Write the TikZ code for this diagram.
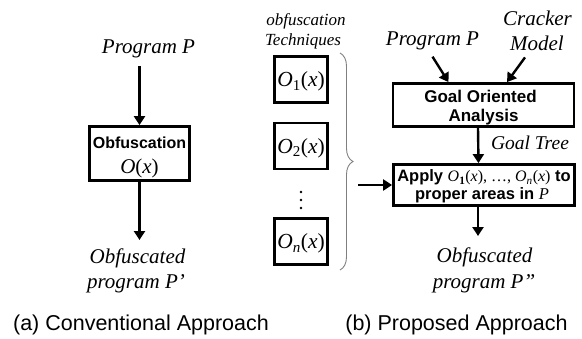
\documentclass[tikz,border=0pt]{standalone}
\usepackage{fontspec}
\setmainfont{Liberation Serif}
\setsansfont{Liberation Sans}
\usetikzlibrary{arrows.meta,decorations.pathreplacing,calc}
% O(x) and O_k(x) in serif: italic letters, upright parentheses
\newcommand\Ofx{\textit{O}{\upshape(}\textit{x}{\upshape)}}
\newcommand\Okx[1]{\textit{O}\textsubscript{#1}{\upshape(}\textit{x}{\upshape)}}
\begin{document}
\begin{tikzpicture}[x=1pt,y=-1pt,
  it/.style={font=\fontsize{21}{24}\selectfont\itshape, inner sep=0pt},
  itsm/.style={font=\fontsize{17}{20}\selectfont\itshape, inner sep=0pt},
  itmd/.style={font=\fontsize{19.5}{22}\selectfont\itshape, inner sep=0pt},
  ser/.style={font=\fontsize{21}{24}\selectfont, inner sep=0pt},
  bf/.style={font=\fontsize{16}{19}\selectfont\sffamily\bfseries, inner sep=0pt},
  captext/.style={font=\fontsize{21.5}{24}\selectfont\sffamily, inner sep=0pt},
  box/.style={draw, line width=2.8pt, inner sep=0pt},
  obox/.style={box, minimum width=53, minimum height=46, text depth=0pt,
    font=\fontsize{21.5}{24}\selectfont},
  arr/.style={line width=2.4pt, -{Triangle[width=11pt,length=9pt]}},
  bracestyle/.style={draw=black!50, line width=0.9pt, decorate,
    decoration={brace, amplitude=13pt}},
]
\useasboundingbox (0,0) rectangle (582,338);

% ---------- (a) conventional approach ----------
\node[it, anchor=base] (pA) at (148.5,53) {Program P};
\node[box, minimum width=100, minimum height=54] (obf) at (139.5,153.5) {};
\node[bf, anchor=base] (obfT) at (139.5,148) {Obfuscation};
\node[ser, anchor=base] (obfO) at (139.5,173) {\Ofx};
\node[it, anchor=base] (outA1) at (137.5,263) {Obfuscated};
\node[it, anchor=base] (outA2) at (136,288) {program P’};
\coordinate (pAin) at (139.5,66);
\coordinate (obfout) at (139.5,240);
\draw[arr] (pAin) -- (obf.north);
\draw[arr] (obf.south) -- (obfout);
\node[captext, anchor=base] (capA) at (141,330) {(a) Conventional Approach};

% ---------- obfuscation techniques ----------
\node[itsm, anchor=base] (tech1) at (306,25) {obfuscation};
\node[itsm, anchor=base] (tech2) at (303,45) {Techniques};
\node[obox] (o1) at (301,79.5) {\Okx{1}};
\node[obox] (o2) at (301,146) {\Okx{2}};
\node[obox] (on) at (301,241.5) {\Okx{\textit{n}}};
\foreach \yy in {192,200,208} \fill (301,\yy) circle (1.4);
\draw[bracestyle] (340,53) -- (340,270);

% ---------- (b) proposed approach ----------
\node[it, anchor=base] (pB) at (432.5,45) {Program P};
\node[it, anchor=base] (crk1) at (537.5,25) {Cracker};
\node[it, anchor=base] (crk2) at (537,50) {Model};
\node[box, minimum width=181, minimum height=43] (goal) at (483.5,105) {};
\node[bf, font=\fontsize{17}{20}\selectfont\sffamily\bfseries, anchor=base]
  (goalT1) at (480.5,102) {Goal Oriented};
\node[bf, font=\fontsize{17}{20}\selectfont\sffamily\bfseries, anchor=base]
  (goalT2) at (483.5,121) {Analysis};
\node[itmd, anchor=base] (gt) at (530,149) {Goal Tree};
\node[box, minimum width=181, minimum height=41] (apply) at (484,185) {};
\node[bf, font=\fontsize{16.5}{19}\selectfont\sffamily\bfseries, anchor=base]
  (apT1) at (484,181.5)
  {Apply {\rmfamily\mdseries\fontsize{16}{19}\selectfont
   \Okx{\textbf{1}}, …, \Okx{\textit{n}}} to};
\node[bf, font=\fontsize{16.5}{19}\selectfont\sffamily\bfseries, anchor=base]
  (apT2) at (482,199)
  {proper areas in {\rmfamily\mdseries\itshape\fontsize{16.5}{19}\selectfont P}};
\node[it, anchor=base] (outB1) at (484.5,262) {Obfuscated};
\node[it, anchor=base] (outB2) at (484,288) {program P”};
\coordinate (brc) at (358,185);
\coordinate (aout) at (478,236);
\draw[arr] ($(pB.south)+(0,7)$) -- ([xshift=-35pt]goal.north);
\draw[arr] ($(crk2.south)+(-12,7)$) -- ([xshift=23.5pt]goal.north);
\draw[arr] ([xshift=-5.5pt]goal.south) -- ([xshift=-5.5pt]apply.north);
\draw[arr] ([xshift=-6pt]apply.south) -- (aout);
\draw[arr] (brc) -- (apply.west);
\node[captext, anchor=base] (capB) at (456.5,330) {(b) Proposed Approach};
\end{tikzpicture}
\end{document}
